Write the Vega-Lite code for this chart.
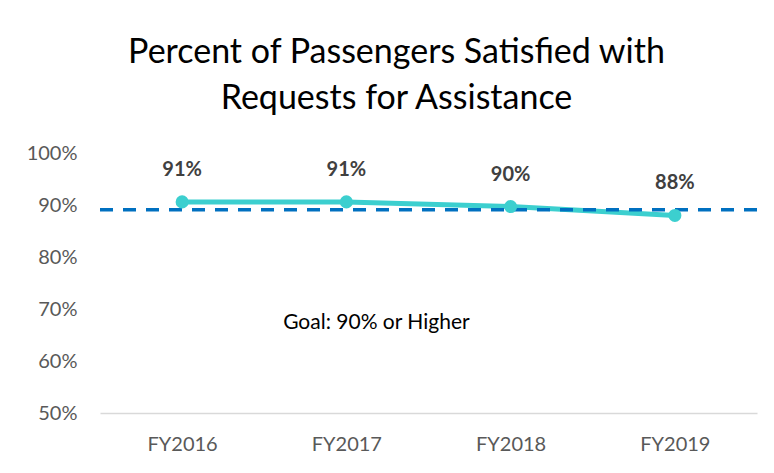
{
  "$schema": "https://vega.github.io/schema/vega-lite/v6.json",
  "autosize": {"type": "none"},
  "width": 657,
  "height": 260,
  "padding": {"left": 100, "top": 153, "right": 17, "bottom": 60},
  "background": "white",
  "title": {
    "text": ["Percent of Passengers Satisfied with", "Requests for Assistance"],
    "font": "Lato",
    "fontSize": 34,
    "fontWeight": "normal",
    "color": "#000000",
    "lineHeight": 46,
    "anchor": "middle",
    "dx": -32,
    "offset": 27
  },
  "config": {
    "view": {"stroke": null},
    "font": "Lato"
  },
  "datasets": {
    "main": [
      {"year": "FY2016", "pct": 0.906},
      {"year": "FY2017", "pct": 0.906},
      {"year": "FY2018", "pct": 0.897},
      {"year": "FY2019", "pct": 0.880}
    ],
    "goal": [{"goal": 0.891, "label": "Goal: 90% or Higher", "labelY": 0.6725, "year": "FY2017"}]
  },
  "layer": [
    {
      "data": {"name": "main"},
      "mark": {"type": "line", "color": "#3CCFCF", "strokeWidth": 5},
      "encoding": {
        "x": {
          "field": "year", "type": "ordinal",
          "scale": {"type": "point", "padding": 0.5},
          "axis": {
            "title": null, "labelAngle": 0, "ticks": false, "grid": false,
            "domainColor": "#D9D9D9", "domainWidth": 1.5,
            "labelFontSize": 20, "labelColor": "#595959", "labelPadding": 21, "labelFont": "Lato"
          }
        },
        "y": {
          "field": "pct", "type": "quantitative",
          "scale": {"domain": [0.5, 1.0], "nice": false, "zero": false},
          "axis": {
            "title": null, "format": ".0%", "values": [0.5, 0.6, 0.7, 0.8, 0.9, 1.0],
            "domain": false, "ticks": false, "grid": false,
            "labelFontSize": 20, "labelColor": "#595959", "labelPadding": 23, "labelFont": "Lato"
          }
        }
      }
    },
    {
      "data": {"name": "goal"},
      "mark": {"type": "rule", "color": "#0070C0", "strokeWidth": 3.5, "strokeDash": [13, 10]},
      "encoding": {"y": {"field": "goal", "type": "quantitative"}}
    },
    {
      "data": {"name": "main"},
      "mark": {"type": "point", "filled": true, "color": "#3CCFCF", "size": 170, "opacity": 1},
      "encoding": {
        "x": {"field": "year", "type": "ordinal"},
        "y": {"field": "pct", "type": "quantitative"}
      }
    },
    {
      "data": {"name": "main"},
      "mark": {"type": "text", "fontSize": 20, "fontWeight": "bold", "color": "#404040", "dy": -32, "font": "Lato"},
      "encoding": {
        "x": {"field": "year", "type": "ordinal"},
        "y": {"field": "pct", "type": "quantitative"},
        "text": {"field": "pct", "type": "quantitative", "format": ".0%"}
      }
    },
    {
      "data": {"name": "goal"},
      "mark": {"type": "text", "fontSize": 21, "color": "#000000", "align": "center", "dx": 30, "font": "Lato"},
      "encoding": {
        "x": {"field": "year", "type": "ordinal"},
        "y": {"field": "labelY", "type": "quantitative"},
        "text": {"field": "label"}
      }
    }
  ]
}
